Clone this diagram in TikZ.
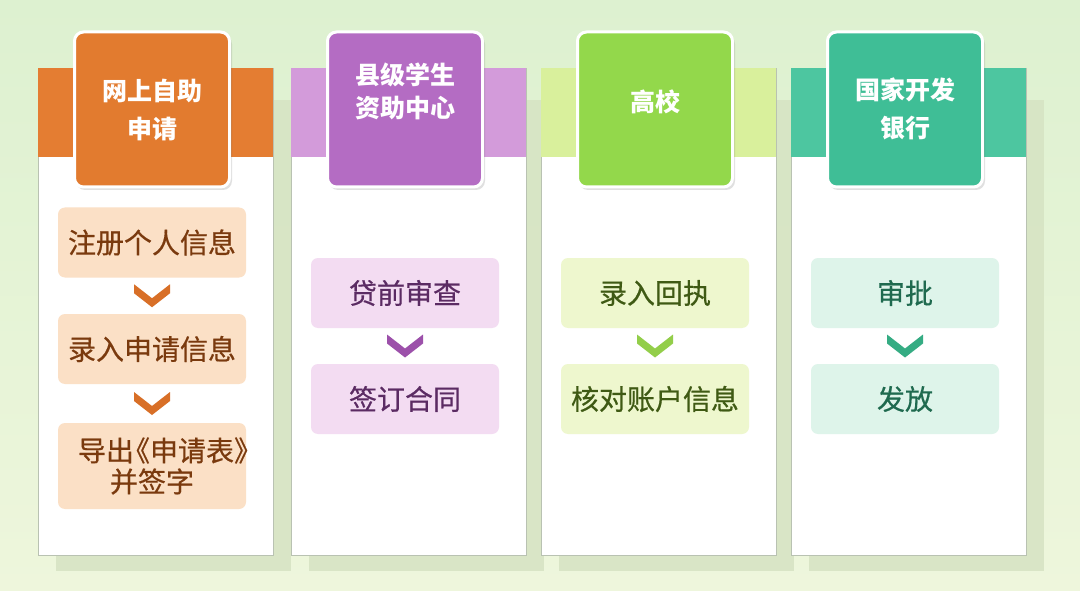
\documentclass[tikz,border=0pt]{standalone}
\usepackage{fontspec}
\setmainfont{Noto Sans CJK SC}
\newfontfamily\itemfont{Noto Sans CJK SC}[FakeBold=0.5]
\usetikzlibrary{calc}
\definecolor{bgtop}{HTML}{DDF1D0}
\definecolor{bgbot}{HTML}{EEF6DC}
\definecolor{shadowc}{HTML}{D6E3C3}
\definecolor{panelline}{HTML}{B9C2B2}
\definecolor{hA}{HTML}{E27B2F}\definecolor{bA}{HTML}{E47D32}\definecolor{iA}{HTML}{FBE0C6}\definecolor{tA}{HTML}{7A3A0E}\definecolor{kA}{HTML}{D86F27}
\definecolor{hB}{HTML}{B46CC3}\definecolor{bB}{HTML}{D39BDA}\definecolor{iB}{HTML}{F3DCF2}\definecolor{tB}{HTML}{5B2B63}\definecolor{kB}{HTML}{9C50AA}
\definecolor{hC}{HTML}{93D84B}\definecolor{bC}{HTML}{D9F09C}\definecolor{iC}{HTML}{EEF7CE}\definecolor{tC}{HTML}{3F5A14}\definecolor{kC}{HTML}{93CE4A}
\definecolor{hD}{HTML}{3FBE96}\definecolor{bD}{HTML}{4DC6A0}\definecolor{iD}{HTML}{DEF4EA}\definecolor{tD}{HTML}{1F6A4F}\definecolor{kD}{HTML}{35AC83}
\tikzset{
  panelbox/.style={draw=panelline, line width=0.8pt, fill=white},
  headbox/.style={draw=white, line width=3pt, rounded corners=9pt, minimum width=155pt, minimum height=155pt, inner sep=0pt},
  headtext/.style={text=white, font=\fontsize{25}{38}\selectfont\bfseries, align=center, inner sep=0pt},
  itembox/.style={rounded corners=7pt, minimum width=188pt, minimum height=70pt, text width=188pt, inner sep=0pt, align=center, font=\fontsize{28}{31}\selectfont\itemfont},
}
\newcommand{\chev}[3]{% color, from node, to node
  \fill[#1] ($(#2.south)!0.5!(#3.north)$) ++(-18,-11.5) -- ++(18,14) -- ++(18,-14) -- ++(0,9) -- ++(-18,14) -- ++(-18,-14) -- cycle;}
\begin{document}
\begin{tikzpicture}[x=1pt,y=-1pt]
\useasboundingbox (0,0) rectangle (1080,591);
\shade[top color=bgtop, bottom color=bgbot] (0,0) rectangle (1080,591);
% shadows
\foreach \cx in {152,405,655,905}{
  \fill[shadowc, opacity=0.85] (\cx-96,100) rectangle (\cx+139,571);
}
% panels
\foreach \cx/\bc in {152/bA,405/bB,655/bC,905/bD}{
  \draw[panelbox] (\cx-114,68) rectangle (\cx+121,555);
  \fill[\bc] (\cx-114,68) rectangle (\cx+121,157);
}
% headers
\foreach \cx in {152,405,655,905}{
  \fill[black, opacity=0.12, rounded corners=9pt] (\cx-76,35) rectangle (\cx+80,190);
}
\node[headbox, fill=hA] (hA) at (152,109.5) {};
\node[headbox, fill=hB] (hB) at (405,109.5) {};
\node[headbox, fill=hC] (hC) at (655,109.5) {};
\node[headbox, fill=hD] (hD) at (905,109.5) {};
\node[headtext] (hAt) at (152,110) {网上自助\\申请};
\node[headtext, font=\fontsize{25}{33}\selectfont\bfseries] (hBt) at (405,91.5) {县级学生\\资助中心};
\node[headtext] (hCt) at (655,102) {高校};
\node[headtext] (hDt) at (905,109) {国家开发\\银行};
% column 1 items
\node[itembox, fill=iA, text=tA] (a1) at (152,242.5) {注册个人信息};
\node[itembox, fill=iA, text=tA] (a2) at (152,349) {录入申请信息};
\node[itembox, fill=iA, text=tA, minimum height=86pt] (a3) at (152,466) {\hspace*{20pt}导出\kern-12pt《申请表》\kern-12pt\\并签字};
\chev{kA}{a1}{a2}
\chev{kA}{a2}{a3}
% column 2
\node[itembox, fill=iB, text=tB] (b1) at (405,293) {贷前审查};
\node[itembox, fill=iB, text=tB] (b2) at (405,399) {签订合同};
\chev{kB}{b1}{b2}
% column 3
\node[itembox, fill=iC, text=tC] (c1) at (655,293) {录入回执};
\node[itembox, fill=iC, text=tC] (c2) at (655,399) {核对账户信息};
\chev{kC}{c1}{c2}
% column 4
\node[itembox, fill=iD, text=tD] (d1) at (905,293) {审批};
\node[itembox, fill=iD, text=tD] (d2) at (905,399) {发放};
\chev{kD}{d1}{d2}
\end{tikzpicture}
\end{document}
